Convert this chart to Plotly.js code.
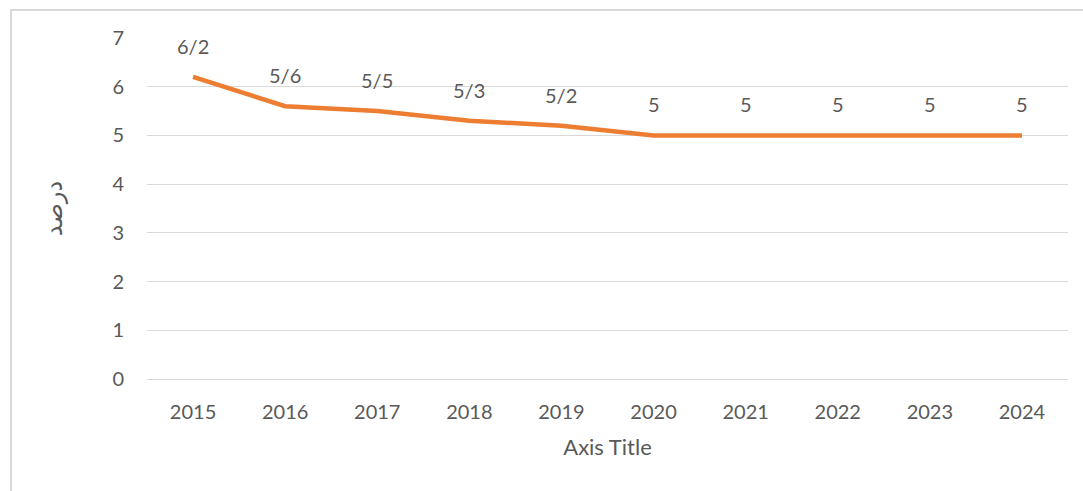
<!DOCTYPE html>
<html>
<head>
<meta charset="utf-8">
<script src="https://cdn.plot.ly/plotly-3.0.1.min.js"></script>
<style>
html,body{margin:0;padding:0;background:#fff;}
#frame{position:absolute;left:10px;top:9px;width:1090px;height:500px;border-left:2px solid #d9d9d9;border-top:2px solid #d9d9d9;}
#chart{position:absolute;left:0;top:0;width:1083px;height:491px;}
</style>
</head>
<body>
<div id="frame"></div>
<div id="chart"></div>
<script>
var years = ['2015','2016','2017','2018','2019','2020','2021','2022','2023','2024'];
var values = [6.2, 5.6, 5.5, 5.3, 5.2, 5, 5, 5, 5, 5];
var labels = ['6/2','5/6','5/5','5/3','5/2','5','5','5','5','5'];
var yTitle = 'درصد';
var xTitle = 'Axis Title';

var font = {family: 'Lato, "Open Sans", sans-serif', size: 20, color: '#595959'};

var trace = {
  x: years, y: values, type: 'scatter', mode: 'lines',
  line: {color: '#ED7D31', width: 4.5},
  hoverinfo: 'skip'
};

var annotations = years.map(function(y, i){
  return {x: years.indexOf(y), y: values[i], text: labels[i], showarrow: false, yshift: 31,
          font: font, xref: 'x', yref: 'y'};
});

var layout = {
  width: 1083, height: 491,
  margin: {l: 147, r: 15, t: 38, b: 112},
  paper_bgcolor: 'rgba(0,0,0,0)', plot_bgcolor: 'rgba(0,0,0,0)',
  showlegend: false,
  font: font,
  xaxis: {
    type: 'category', range: [-0.5, 9.5],
    showgrid: false, zeroline: false,
    showline: true, linecolor: '#d9d9d9', linewidth: 1,
    ticks: 'outside', ticklen: 15, tickcolor: 'rgba(0,0,0,0)',
    tickfont: font,
    title: {text: xTitle, font: {family: font.family, size: 22, color: '#595959'}, standoff: 17}
  },
  yaxis: {
    range: [0, 7], dtick: 1, tick0: 0,
    showgrid: true, gridcolor: '#d9d9d9', gridwidth: 1,
    zeroline: false, showline: false,
    ticks: 'outside', ticklen: 18, tickcolor: 'rgba(0,0,0,0)',
    tickfont: font,
    title: {text: yTitle, font: {family: '"Noto Sans", "DejaVu Sans", sans-serif', size: 24, color: '#595959'}, standoff: 42}
  },
  annotations: annotations
};

Plotly.newPlot('chart', [trace], layout, {displayModeBar: false, staticPlot: true});
</script>
</body>
</html>
